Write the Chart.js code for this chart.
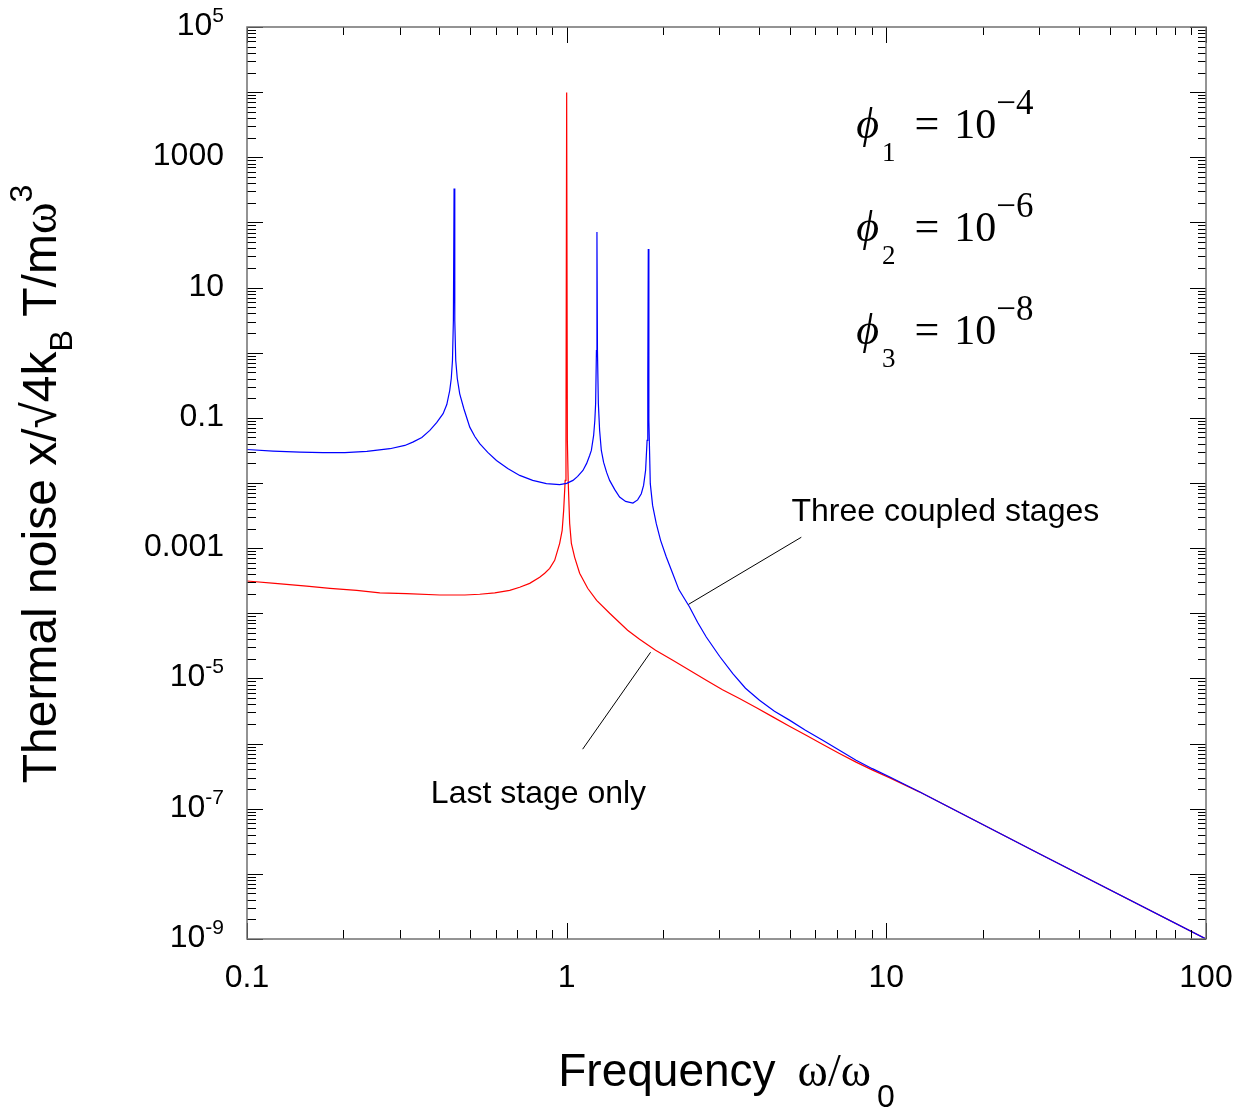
<!DOCTYPE html>
<html>
<head>
<meta charset="utf-8">
<title>Thermal noise</title>
<script src="https://cdn.jsdelivr.net/npm/chart.js@4.4.1/dist/chart.umd.min.js"></script>
<style>
    html, body { margin: 0; padding: 0; background: #fff; }
    #noiseChart { display: block; }
</style>
</head>
<body>
<canvas id="noiseChart" width="1251" height="1111"></canvas>
<script>
// values (frequency in units of w0)
const redFreq = [0.1, 0.1223, 0.1537, 0.1817, 0.2203, 0.2603, 0.3155, 0.4011, 0.4801, 0.5346, 0.5957, 0.6635,
    0.7129, 0.7662, 0.8233, 0.8537, 0.8849, 0.9173, 0.9509, 0.9681, 0.9786, 0.9893, 0.995, 1.0,
    1.005, 1.0109, 1.0218, 1.0344, 1.0593, 1.098, 1.1634, 1.2409, 1.3627, 1.5509, 1.6907, 1.897, 2.1477,
    2.4232, 2.7333, 3.0726, 3.4714, 3.9244, 4.4125, 4.9766, 5.6118, 6.3096, 7.1321, 8.0407, 9.0598,
    10.219, 12.683, 30, 100];
const redNoise = [3.13e-4, 2.88e-4, 2.62e-4, 2.42e-4, 2.25e-4, 2.06e-4, 2.0e-4, 1.91e-4, 1.91e-4, 1.96e-4, 2.06e-4, 2.25e-4,
    2.51e-4, 2.88e-4, 3.57e-4, 4.11e-4, 4.9e-4, 6.5e-4, 1.185e-3, 1.875e-3, 3.8e-3, 1.096e-2, 4.5e-2, 9.9e3,
    4.5e-2, 1.096e-2, 2.4e-3, 1.185e-3, 7.23e-4, 4.11e-4, 2.42e-4, 1.58e-4, 1.0e-4, 5.49e-5, 3.99e-5, 2.71e-5, 1.9e-5,
    1.336e-5, 9.38e-6, 6.71e-6, 4.92e-6, 3.55e-6, 2.57e-6, 1.85e-6, 1.345e-6, 9.79e-7, 7.05e-7, 5.19e-7, 3.91e-7,
    3.0e-7, 1.816e-7, 2.05e-8, 1.0e-9];

const blueFreq = [0.1, 0.1206, 0.1464, 0.1728, 0.2024, 0.2371, 0.2799, 0.3117, 0.3301, 0.3523, 0.3732, 0.3925,
    0.4106, 0.4217, 0.4307, 0.4355, 0.4393, 0.4422, 0.4444, 0.4467, 0.4498, 0.4548, 0.4629, 0.4766, 0.4976,
    0.516, 0.5346, 0.5664, 0.6031, 0.6541, 0.7129, 0.7829, 0.8642, 0.9508, 1.0, 1.0464, 1.0824, 1.1243,
    1.1548, 1.18, 1.1946, 1.2144, 1.2249, 1.232, 1.2391, 1.2437, 1.2483, 1.2564, 1.268, 1.2836, 1.305,
    1.3335, 1.3627, 1.4125, 1.464, 1.529, 1.6115, 1.667, 1.7118, 1.7403, 1.7656, 1.7848, 1.7938, 1.8001,
    1.8079, 1.8264, 1.8571, 1.907, 1.9671, 2.0497, 2.1448, 2.2439, 2.4232, 2.5668, 2.7333, 3.0078, 3.3097,
    3.6257, 4.0104, 4.4668, 4.9766, 5.5836, 6.3229, 7.1321, 8.0407, 9.0398, 10.219, 12.683, 30, 100];
const blueNoise = [3.27e-2, 3.09e-2, 2.97e-2, 2.92e-2, 2.92e-2, 3.05e-2, 3.36e-2, 3.77e-2, 4.24e-2, 5.0e-2, 6.41e-2, 8.5e-2,
    0.116, 0.16, 0.263, 0.402, 0.759, 3.12, 333, 3.12, 0.759, 0.402, 0.234, 0.1394, 7.2e-2,
    5.18e-2, 4.01e-2, 2.95e-2, 2.22e-2, 1.675e-2, 1.308e-2, 1.096e-2, 9.76e-3, 9.42e-3, 9.86e-3, 1.096e-2, 1.262e-2, 1.56e-2,
    2.0e-2, 2.65e-2, 3.16e-2, 5.37e-2, 9.12e-2, 0.1663, 1.08, 71.5, 1.08, 0.166, 6.41e-2, 3.16e-2, 2.07e-2,
    1.454e-2, 1.096e-2, 7.98e-3, 6.08e-3, 5.22e-3, 4.92e-3, 5.5e-3, 6.85e-3, 9.19e-3, 1.56e-2, 4.5e-2, 0.375, 39.2,
    9.12e-2, 9.76e-3, 4.53e-3, 2.376e-3, 1.317e-3, 7.3e-4, 4.11e-4, 2.31e-4, 1.249e-4, 7.28e-5, 4.33e-5, 2.19e-5, 1.189e-5,
    7.07e-6, 4.63e-6, 3.14e-6, 2.29e-6, 1.605e-6, 1.128e-6, 7.92e-7, 5.56e-7, 4.12e-7, 3.09e-7, 1.816e-7, 2.05e-8, 1.0e-9];

const xTickValues = [0.1, 1, 10, 100];
const xTickLabels = ['0.1', '1', '10', '100'];
const yTickValues = [1e5, 1e3, 10, 0.1, 1e-3, 1e-5, 1e-7, 1e-9];
const yTickBase = ['10', '1000', '10', '0.1', '0.001', '10', '10', '10'];
const yTickExp = ['5', '', '', '', '', '-5', '-7', '-9'];

const phiIndex = ['1', '2', '3'];
const phiExponent = ['\u22124', '\u22126', '\u22128'];

// where the notes sit, in data units
const notes = {
    phiLeft: 8.05,
    phiRows: [2.0e3, 52, 1.38],
    coupled: { text: 'Three coupled stages', at: [5.05, 2.6e-3], from: [5.42, 1.47e-3], to: [2.405, 1.37e-4] },
    last: { text: 'Last stage only', at: [0.376, 1.22e-7], from: [1.122, 8.2e-7], to: [1.83, 2.52e-5] }
};

const SANS = '"Liberation Sans", Arial, Helvetica, sans-serif';
const SERIF = '"Liberation Serif", "Times New Roman", Times, serif';

function toPoints(xs, ys) {
    return xs.map((v, i) => ({ x: v, y: ys[i] }));
}

function decadeTicks(min, max) {
    const major = [];
    const minor = [];
    const lo = Math.round(Math.log10(min));
    const hi = Math.round(Math.log10(max));
    for (let e = lo; e <= hi; e++) {
        const base = Math.pow(10, e);
        major.push(base);
        if (e < hi) {
            for (let k = 2; k <= 9; k++) minor.push(k * base);
        }
    }
    return { major, minor };
}

// draws a run of text pieces with their own font and vertical shift
function drawPieces(ctx, pieces, x, y, align) {
    let total = 0;
    pieces.forEach(p => {
        ctx.font = p.font;
        p.w = ctx.measureText(p.text).width + (p.gap || 0);
        total += p.w;
    });
    let cx = x;
    if (align === 'center') cx = x - total / 2;
    if (align === 'right') cx = x - total;
    pieces.forEach(p => {
        ctx.font = p.font;
        ctx.fillText(p.text, cx, y + (p.dy || 0));
        cx += p.w;
    });
}

const frameAndLabels = {
    id: 'frameAndLabels',
    afterDatasetsDraw(chart) {
        const { ctx, chartArea: a, scales: { x, y } } = chart;
        ctx.save();
        ctx.textAlign = 'left';
        ctx.textBaseline = 'alphabetic';
        ctx.fillStyle = '#000';

        // inward ticks on all four sides
        const xt = decadeTicks(0.1, 100);
        const yt = decadeTicks(1e-9, 1e5);
        ctx.strokeStyle = '#000';
        ctx.lineWidth = 1;
        ctx.beginPath();
        xt.major.forEach(v => {
            const px = Math.round(x.getPixelForValue(v)) + 0.5;
            ctx.moveTo(px, a.bottom); ctx.lineTo(px, a.bottom - 16);
            ctx.moveTo(px, a.top); ctx.lineTo(px, a.top + 16);
        });
        xt.minor.forEach(v => {
            const px = Math.round(x.getPixelForValue(v)) + 0.5;
            ctx.moveTo(px, a.bottom); ctx.lineTo(px, a.bottom - 9);
            ctx.moveTo(px, a.top); ctx.lineTo(px, a.top + 8);
        });
        yt.major.forEach(v => {
            const py = Math.round(y.getPixelForValue(v)) + 0.5;
            ctx.moveTo(a.left, py); ctx.lineTo(a.left + 16, py);
            ctx.moveTo(a.right, py); ctx.lineTo(a.right - 16, py);
        });
        yt.minor.forEach(v => {
            const py = Math.round(y.getPixelForValue(v)) + 0.5;
            ctx.moveTo(a.left, py); ctx.lineTo(a.left + 9, py);
            ctx.moveTo(a.right, py); ctx.lineTo(a.right - 8, py);
        });
        ctx.stroke();

        ctx.strokeStyle = '#707070';
        ctx.lineWidth = 1.5;
        ctx.strokeRect(a.left, a.top, a.right - a.left, a.bottom - a.top);

        // tick labels
        const tickFont = '32px ' + SANS;
        const expFont = '21px ' + SANS;
        yTickValues.forEach((v, i) => {
            const py = y.getPixelForValue(v) + 8;
            const pieces = [{ text: yTickBase[i], font: tickFont }];
            if (yTickExp[i]) pieces.push({ text: yTickExp[i], font: expFont, dy: -13 });
            drawPieces(ctx, pieces, a.left - 23, py, 'right');
        });
        ctx.textAlign = 'center';
        ctx.font = tickFont;
        xTickValues.forEach((v, i) => {
            ctx.fillText(xTickLabels[i], x.getPixelForValue(v), a.bottom + 48);
        });
        ctx.textAlign = 'left';

        // axis titles
        const titleFont = '46px ' + SANS;
        drawPieces(ctx, [
            { text: 'Frequency', font: titleFont, gap: 22 },
            { text: '\u03c9/\u03c9', font: '46px ' + SERIF, gap: 6 },
            { text: '0', font: '32px ' + SANS, dy: 21 }
        ], (a.left + a.right) / 2, a.bottom + 147, 'center');

        ctx.save();
        ctx.translate(56, (a.top + a.bottom) / 2 + 1);
        ctx.rotate(-Math.PI / 2);
        drawPieces(ctx, [
            { text: 'Thermal noise x/\u221a4k', font: '48px ' + SANS },
            { text: 'B', font: '32px ' + SANS, dy: 16 },
            { text: ' T/m', font: '48px ' + SANS },
            { text: '\u03c9', font: '48px ' + SERIF },
            { text: '3', font: '32px ' + SANS, dy: -24 }
        ], 0, 0, 'center');
        ctx.restore();

        // loss angle block
        const phiX = x.getPixelForValue(notes.phiLeft);
        notes.phiRows.forEach((v, i) => {
            const py = y.getPixelForValue(v);
            drawPieces(ctx, [
                { text: '\u03d5', font: 'italic 44px ' + SERIF, gap: 3 },
                { text: phiIndex[i], font: '27px ' + SERIF, dy: 23, gap: 19 },
                { text: '=', font: '44px ' + SERIF, gap: 15 },
                { text: '10', font: '42px ' + SERIF },
                { text: phiExponent[i], font: '35px ' + SERIF, dy: -24 }
            ], phiX, py, 'left');
        });

        // curve labels with leader lines
        ctx.strokeStyle = '#000';
        ctx.lineWidth = 1;
        ctx.font = '32px ' + SANS;
        [notes.coupled, notes.last].forEach(n => {
            ctx.fillText(n.text, x.getPixelForValue(n.at[0]), y.getPixelForValue(n.at[1]));
            ctx.beginPath();
            ctx.moveTo(x.getPixelForValue(n.from[0]), y.getPixelForValue(n.from[1]));
            ctx.lineTo(x.getPixelForValue(n.to[0]), y.getPixelForValue(n.to[1]));
            ctx.stroke();
        });

        ctx.restore();
    }
};

const ctx = document.getElementById('noiseChart').getContext('2d');
const chart = new Chart(ctx, {
    type: 'scatter',
    data: {
        datasets: [
            {
                label: 'Three coupled stages',
                data: toPoints(blueFreq, blueNoise),
                showLine: true,
                borderColor: '#0000ff',
                borderWidth: 1.2,
                pointRadius: 0,
                tension: 0
            },
            {
                label: 'Last stage only',
                data: toPoints(redFreq, redNoise),
                showLine: true,
                borderColor: '#ff0000',
                borderWidth: 1.2,
                pointRadius: 0,
                tension: 0
            }
        ]
    },
    options: {
        responsive: false,
        animation: false,
        devicePixelRatio: 1,
        layout: { padding: { left: 247, top: 27, right: 45, bottom: 172 } },
        plugins: {
            legend: { display: false },
            tooltip: { enabled: false }
        },
        scales: {
            x: { type: 'logarithmic', min: 0.1, max: 100, display: false },
            y: { type: 'logarithmic', min: 1e-9, max: 1e5, display: false }
        }
    },
    plugins: [frameAndLabels]
});
</script>
</body>
</html>
